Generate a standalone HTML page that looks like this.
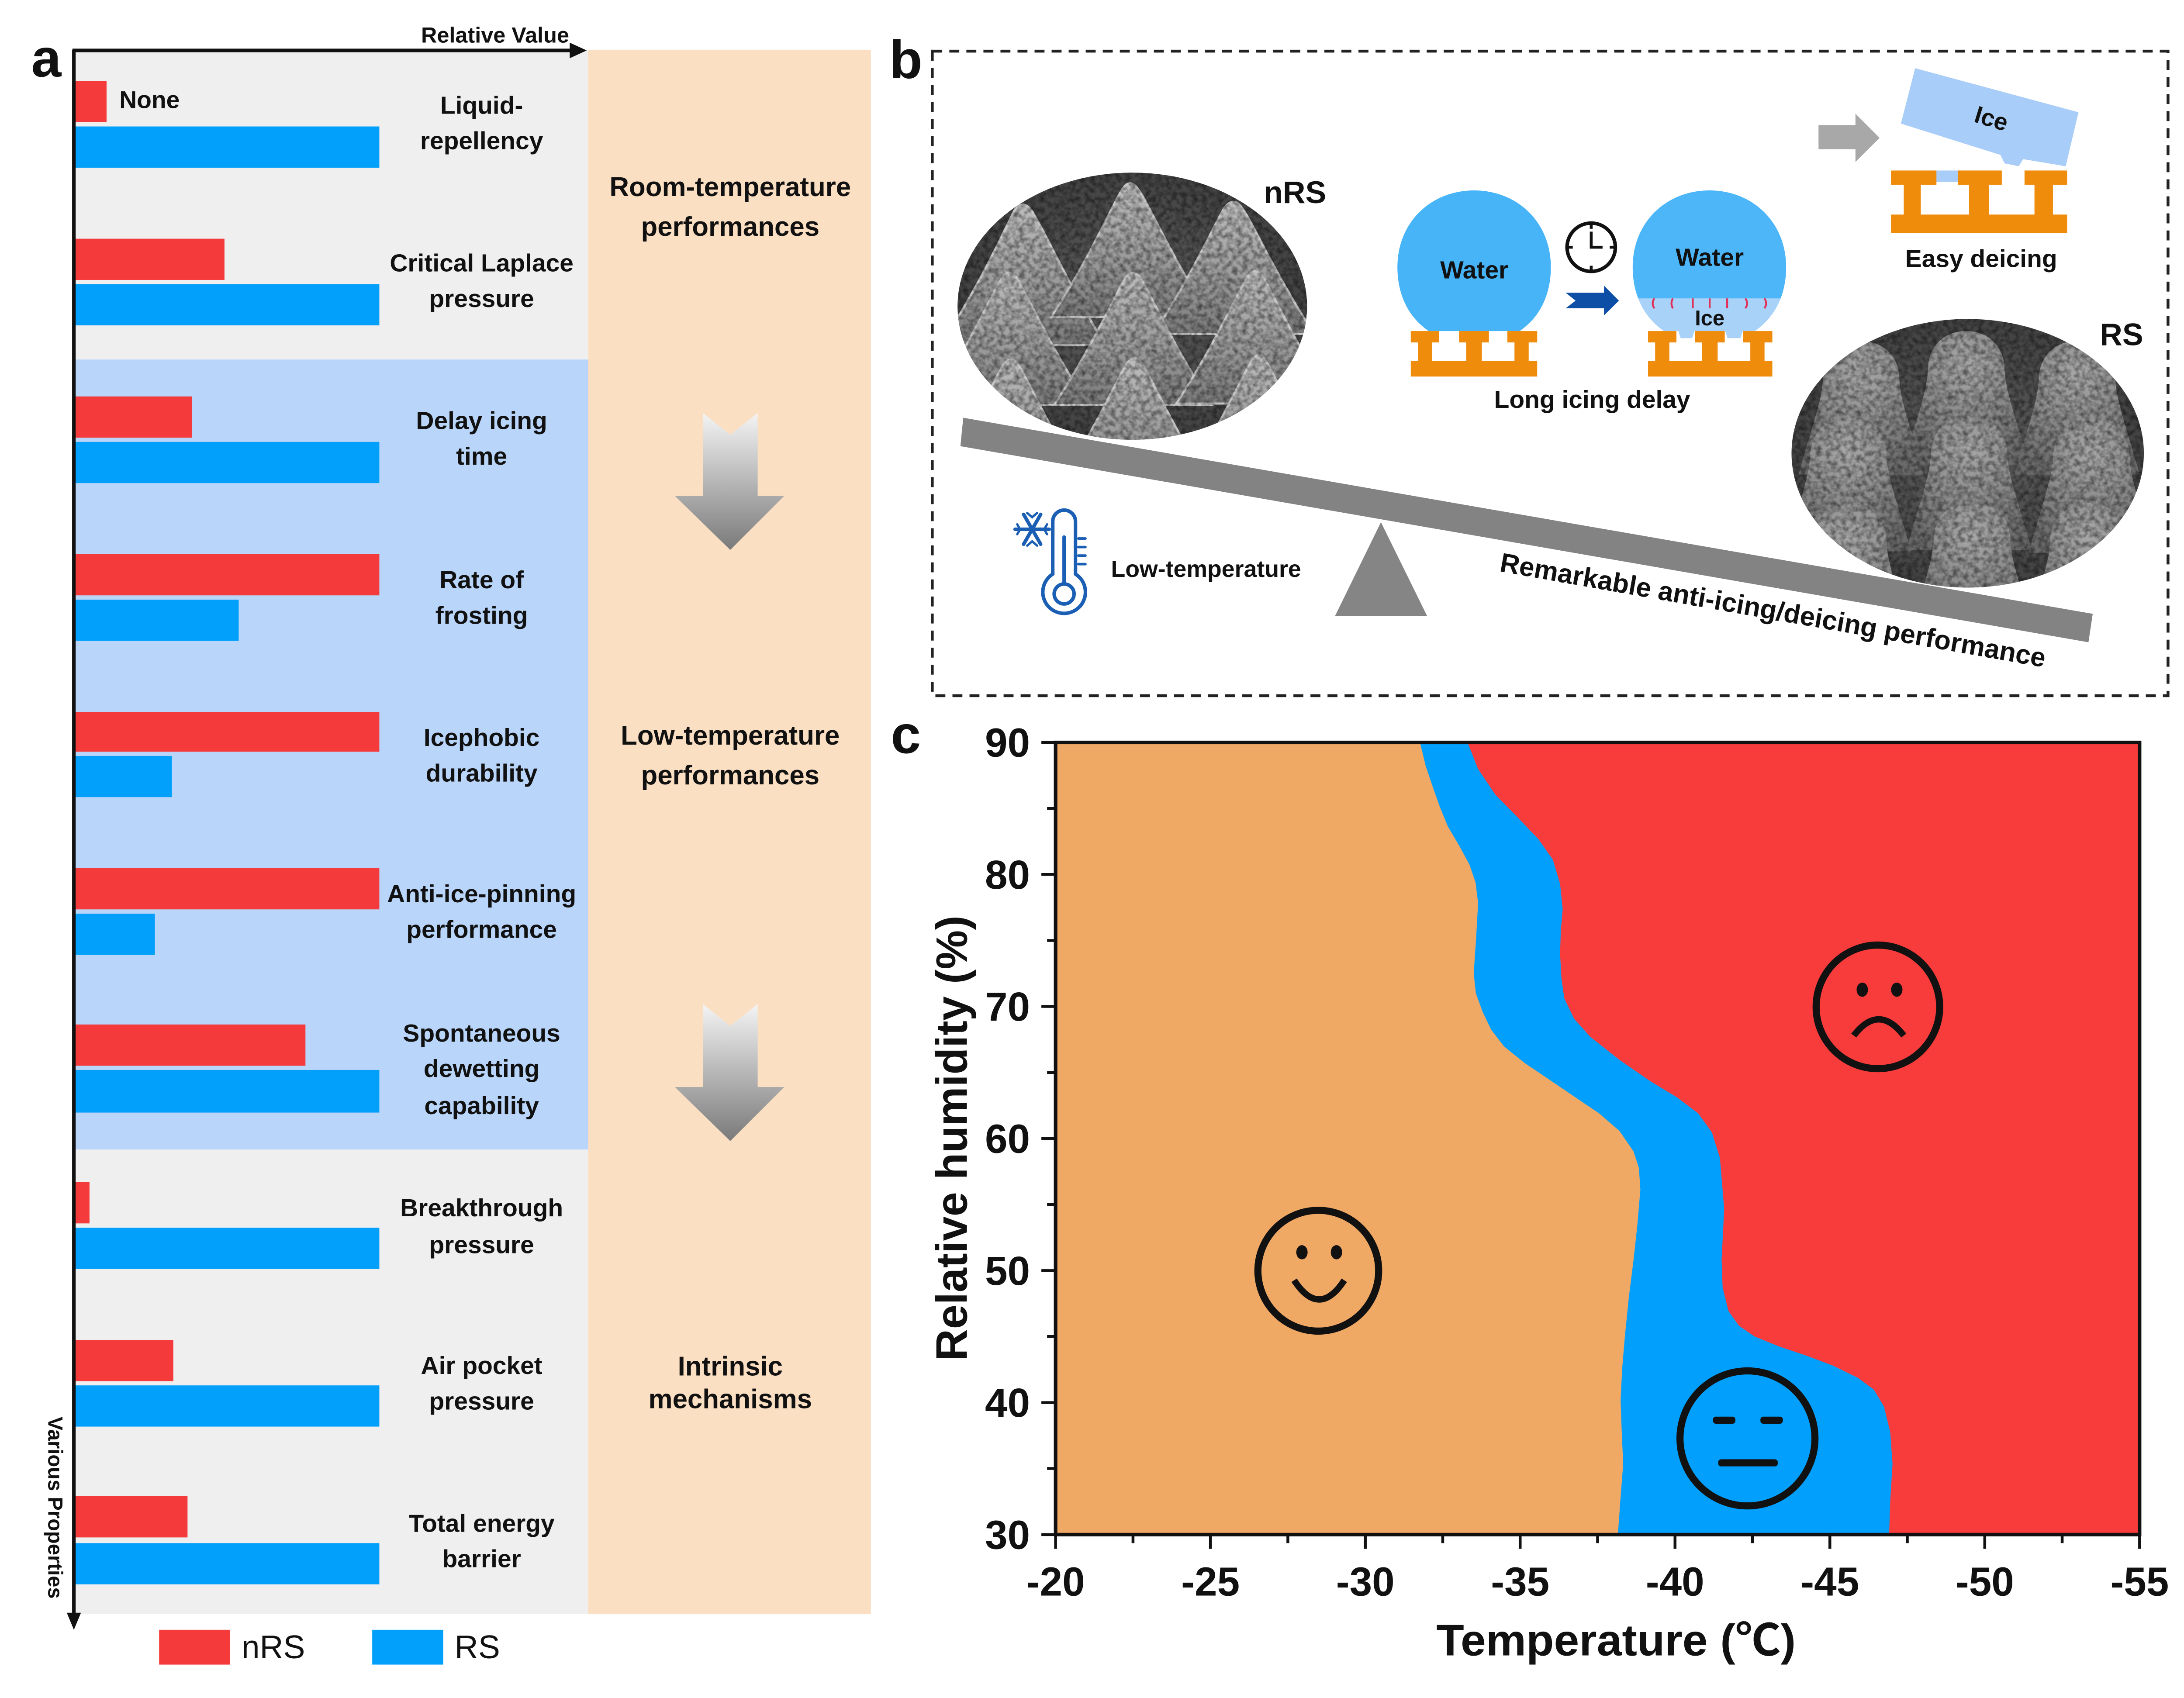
<!DOCTYPE html>
<html><head><meta charset="utf-8"><style>
html,body{margin:0;padding:0;background:#fff;}
svg{display:block;}
text{font-family:"Liberation Sans","Noto Sans CJK SC",sans-serif;font-weight:bold;fill:#111;}
</style></head><body>
<svg xmlns="http://www.w3.org/2000/svg" width="5100" height="3888" viewBox="0 0 1568 1195" preserveAspectRatio="none">
<defs>
 <linearGradient id="arr" x1="0" y1="0" x2="0" y2="1">
  <stop offset="0" stop-color="#f4f4f4"/><stop offset="1" stop-color="#7a7a7a"/>
 </linearGradient>
 <linearGradient id="cone" x1="0" y1="0" x2="0" y2="1">
  <stop offset="0" stop-color="#bdbdbd"/><stop offset="0.6" stop-color="#999"/>
  <stop offset="1" stop-color="#7a7a7a"/>
 </linearGradient>
 <radialGradient id="dome" cx="0.5" cy="0.25" r="0.75">
  <stop offset="0" stop-color="#a8a8a8"/><stop offset="0.5" stop-color="#8c8c8c"/>
  <stop offset="1" stop-color="#6a6a6a"/>
 </radialGradient>
 <radialGradient id="semb" cx="0.5" cy="0.5" r="0.6">
  <stop offset="0" stop-color="#5e5e5e"/><stop offset="1" stop-color="#3c3c3c"/>
 </radialGradient>
 <clipPath id="c1"><ellipse cx="797" cy="215.5" rx="123" ry="94"/></clipPath>
 <clipPath id="c2"><ellipse cx="1385" cy="319" rx="124" ry="94.5"/></clipPath>
 <clipPath id="d2"><path d="M1171.2,233 C1155.2,222 1149.2,205 1149.2,188 C1149.2,156 1173.2,134 1203.2,134 C1233.2,134 1257.2,156 1257.2,188 C1257.2,205 1251.2,222 1235.2,233 Z"/></clipPath>
 <filter id="grain" x="0" y="0" width="100%" height="100%">
  <feTurbulence type="fractalNoise" baseFrequency="0.28" numOctaves="2" seed="7"/>
  <feColorMatrix type="matrix" values="0 0 0 0 0  0 0 0 0 0  0 0 0 0 0  1.0 0 0 0 -0.35"/>
 </filter>
</defs>

<!-- ================= PANEL A ================= -->
<rect x="53" y="36" width="361" height="217" fill="#efefef"/>
<rect x="53" y="253" width="361" height="556" fill="#b9d5fa"/>
<rect x="53" y="809" width="361" height="327" fill="#efefef"/>
<rect x="414" y="35" width="199" height="1101" fill="#fbdfc3"/>

<g>
 <rect x="52" y="57" width="23" height="29" fill="#f53a3c"/><rect x="52" y="89" width="215" height="29" fill="#02a0fa"/>
 <rect x="52" y="168" width="106" height="29" fill="#f53a3c"/><rect x="52" y="200" width="215" height="29" fill="#02a0fa"/>
 <rect x="52" y="279" width="83" height="29" fill="#f53a3c"/><rect x="52" y="311" width="215" height="29" fill="#02a0fa"/>
 <rect x="52" y="390" width="215" height="29" fill="#f53a3c"/><rect x="52" y="422" width="116" height="29" fill="#02a0fa"/>
 <rect x="52" y="501" width="215" height="28" fill="#f53a3c"/><rect x="52" y="532" width="69" height="29" fill="#02a0fa"/>
 <rect x="52" y="611" width="215" height="29" fill="#f53a3c"/><rect x="52" y="643" width="57" height="29" fill="#02a0fa"/>
 <rect x="52" y="721" width="163" height="29" fill="#f53a3c"/><rect x="52" y="753" width="215" height="30" fill="#02a0fa"/>
 <rect x="52" y="832" width="11" height="29" fill="#f53a3c"/><rect x="52" y="864" width="215" height="29" fill="#02a0fa"/>
 <rect x="52" y="943" width="70" height="29" fill="#f53a3c"/><rect x="52" y="975" width="215" height="29" fill="#02a0fa"/>
 <rect x="52" y="1053" width="80" height="29" fill="#f53a3c"/><rect x="52" y="1086" width="215" height="29" fill="#02a0fa"/>
</g>

<line x1="52" y1="35" x2="52" y2="1137" stroke="#111" stroke-width="2.5"/>
<polygon points="47,1135 57,1135 52,1147" fill="#111"/>
<line x1="51" y1="35.5" x2="403" y2="35.5" stroke="#111" stroke-width="2.5"/>
<polygon points="401,30 401,41 413,35.5" fill="#111"/>
<text x="348.5" y="30" font-size="15.5" text-anchor="middle">Relative Value</text>
<text x="22" y="54" font-size="38">a</text>
<text x="84" y="76" font-size="17">None</text>

<g font-size="17.5" text-anchor="middle">
 <text x="339" y="80">Liquid-</text><text x="339" y="105">repellency</text>
 <text x="339" y="191">Critical Laplace</text><text x="339" y="216">pressure</text>
 <text x="339" y="302">Delay icing</text><text x="339" y="327">time</text>
 <text x="339" y="414">Rate of</text><text x="339" y="439">frosting</text>
 <text x="339" y="525">Icephobic</text><text x="339" y="550">durability</text>
 <text x="339" y="635">Anti-ice-pinning</text><text x="339" y="660">performance</text>
 <text x="339" y="733">Spontaneous</text><text x="339" y="758">dewetting</text><text x="339" y="784">capability</text>
 <text x="339" y="856">Breakthrough</text><text x="339" y="882">pressure</text>
 <text x="339" y="967">Air pocket</text><text x="339" y="992">pressure</text>
 <text x="339" y="1078">Total energy</text><text x="339" y="1103">barrier</text>
</g>

<g font-size="19" text-anchor="middle">
 <text x="514" y="138">Room-temperature</text><text x="514" y="166">performances</text>
 <text x="514" y="524">Low-temperature</text><text x="514" y="552">performances</text>
 <text x="514" y="968">Intrinsic</text><text x="514" y="991">mechanisms</text>
</g>
<path d="M494.7,290.6 L514,306 L533.3,290.6 L533.3,349 L552,349 L514,387 L475,349 L494.7,349 Z" fill="url(#arr)"/>
<path d="M494.7,706.6 L514,722 L533.3,706.6 L533.3,765 L552,765 L514,803 L475,765 L494.7,765 Z" fill="url(#arr)"/>

<text transform="translate(34,997) rotate(90)" font-size="14.5">Various Properties</text>

<rect x="112" y="1147" width="50" height="24.5" fill="#f53a3c"/>
<text x="170" y="1167" font-size="23" style="font-weight:normal">nRS</text>
<rect x="262" y="1147" width="50" height="24.5" fill="#02a0fa"/>
<text x="320" y="1167" font-size="23" style="font-weight:normal">RS</text>

<!-- ================= PANEL B ================= -->
<text x="626" y="55" font-size="38">b</text>
<rect x="656.2" y="36" width="869.8" height="453.6" fill="none" stroke="#222" stroke-width="2" stroke-dasharray="7 5"/>

<polygon points="678,294 1473,432 1470,452 676,314" fill="#838383"/>
<polygon points="972,367.5 1004.5,433.5 939.7,433.5" fill="#858585"/>

<!-- nRS SEM -->
<g clip-path="url(#c1)">
 <rect x="670" y="118" width="255" height="195" fill="url(#semb)"/>
 <g fill="url(#cone)" stroke="#c9c9c9" stroke-width="1.5">
  <path d="M662,243 C690,200 708,160 714,148 Q720,140 726,148 C734,160 752,200 778,243 Z"/>
  <path d="M740,223 C768,180 784,142 790,133 Q795.4,125 801,133 C808,142 824,180 852,223 Z"/>
  <path d="M812,235 C840,192 856,155 862,146 Q868,138 874,146 C881,155 897,192 925,235 Z"/>
  <path d="M655,285 C683,242 699,205 705,196 Q710,188 716,196 C722,205 738,242 766,285 Z"/>
  <path d="M742,285 C770,242 786,205 792,196 Q797,188 803,196 C809,205 825,242 853,285 Z"/>
  <path d="M828,284 C856,241 872,204 878,195 Q883,187 889,195 C895,204 911,241 939,284 Z"/>
  <path d="M657,346 C685,303 700,266 706,257 Q711.5,249 717,257 C723,266 739,303 767,346 Z"/>
  <path d="M743,345 C771,302 787,265 793,256 Q798.7,248 804,256 C810,265 826,302 854,345 Z"/>
  <path d="M831,343 C859,300 875,263 881,254 Q886,246 891,254 C897,263 913,300 941,343 Z"/>
 </g>
 <rect x="670" y="118" width="255" height="195" filter="url(#grain)"/>
</g>
<text x="889.5" y="143" font-size="22">nRS</text>

<!-- RS SEM -->
<g clip-path="url(#c2)">
 <rect x="1258" y="222" width="255" height="195" fill="url(#semb)"/>
 <g fill="url(#dome)">
  <path d="M1266,334 C1274,304 1282,284 1283,268 C1283,250 1295,240 1310,240 C1325,240 1337,250 1337,268 C1338,284 1346,304 1354,334 Z"/>
  <path d="M1340,327 C1348,297 1356,277 1357,261 C1357,243 1369,233 1384,233 C1399,233 1411,243 1411,261 C1412,277 1420,297 1428,327 Z"/>
  <path d="M1418,334 C1426,304 1434,284 1435,268 C1435,250 1447,240 1462,240 C1477,240 1489,250 1489,268 C1490,284 1498,304 1506,334 Z"/>
  <path d="M1257,388 C1265,358 1273,338 1274,322 C1274,304 1286,294 1301,294 C1316,294 1328,304 1328,322 C1329,338 1337,358 1345,388 Z"/>
  <path d="M1342,387 C1350,357 1358,337 1359,321 C1359,303 1371,293 1386,293 C1401,293 1413,303 1413,321 C1414,337 1422,357 1430,387 Z"/>
  <path d="M1428,389 C1436,359 1444,339 1445,323 C1445,305 1457,295 1472,295 C1487,295 1499,305 1499,323 C1500,339 1508,359 1516,389 Z"/>
  <path d="M1257,449 C1265,419 1273,399 1274,383 C1274,365 1286,355 1301,355 C1316,355 1328,365 1328,383 C1329,399 1337,419 1345,449 Z"/>
  <path d="M1344,447 C1352,417 1360,397 1361,381 C1361,363 1373,353 1388,353 C1403,353 1415,363 1415,381 C1416,397 1424,417 1432,447 Z"/>
  <path d="M1426,448 C1434,418 1442,398 1443,382 C1443,364 1455,354 1470,354 C1485,354 1497,364 1497,382 C1498,398 1506,418 1514,448 Z"/>
 </g>
 <rect x="1258" y="222" width="255" height="195" filter="url(#grain)"/>
</g>
<text x="1478" y="243" font-size="22">RS</text>

<!-- droplet 1 -->
<path d="M1005.6,233 C989.6,222 983.6,205 983.6,188 C983.6,156 1007.6,134 1037.6,134 C1067.6,134 1091.6,156 1091.6,188 C1091.6,205 1085.6,222 1069.6,233 Z" fill="#47b4f8"/>
<text x="1037.7" y="196" font-size="17.5" text-anchor="middle">Water</text>
<g fill="#ef8c0c">
 <rect x="993" y="233" width="20" height="8"/><rect x="998" y="240" width="10" height="15"/>
 <rect x="1027" y="233" width="21" height="8"/><rect x="1032" y="240" width="11" height="15"/>
 <rect x="1061" y="233" width="21" height="8"/><rect x="1066" y="240" width="10" height="15"/>
 <rect x="993" y="254" width="89" height="11"/>
</g>

<circle cx="1120" cy="174" r="17" fill="#fff" stroke="#111" stroke-width="2.5"/>
<g stroke="#111" stroke-width="2">
 <line x1="1120" y1="157" x2="1120" y2="161"/><line x1="1120" y1="187" x2="1120" y2="191"/>
 <line x1="1103" y1="174" x2="1107" y2="174"/><line x1="1133" y1="174" x2="1137" y2="174"/>
 <line x1="1120" y1="174" x2="1120" y2="163"/><line x1="1119" y1="174" x2="1128" y2="174"/>
</g>
<polygon points="1102,206 1129,206 1129,201 1139.5,211.6 1129,222 1129,217 1102,217 1109,211.6" fill="#0d4ea6"/>

<!-- droplet 2 -->
<g clip-path="url(#d2)">
 <rect x="1145" y="130" width="120" height="81" fill="#4cb6f9"/>
 <rect x="1145" y="210" width="120" height="30" fill="#a9d2f8"/>
</g>
<path d="M1181,232 L1193,232 L1191,238 L1183,238 Z M1214,232 L1227,232 L1225,238 L1216,238 Z" fill="#a9d2f8"/>
<g fill="none" stroke="#e0325a" stroke-width="1.3">
 <path d="M1164.5,210 Q1162,213.5 1164.5,217"/>
 <path d="M1177.5,210 Q1175.5,213.5 1177.5,217"/>
 <path d="M1191.5,210 L1191.5,217"/>
 <path d="M1203.4,210 L1203.4,217"/>
 <path d="M1215.7,210 L1215.7,217"/>
 <path d="M1228.5,210 Q1231,213.5 1228.5,217"/>
 <path d="M1241.9,210 Q1244.4,213.5 1241.9,217"/>
</g>
<text x="1203.4" y="187" font-size="17.5" text-anchor="middle">Water</text>
<text x="1203.4" y="229" font-size="15" text-anchor="middle">Ice</text>
<g fill="#ef8c0c">
 <rect x="1160" y="233" width="20" height="8"/><rect x="1165" y="240" width="10" height="15"/>
 <rect x="1193" y="233" width="21" height="8"/><rect x="1198" y="240" width="11" height="15"/>
 <rect x="1227" y="233" width="20.5" height="8"/><rect x="1232" y="240" width="10" height="15"/>
 <rect x="1160" y="254" width="87.5" height="11"/>
</g>
<text x="1120.7" y="287" font-size="17.5" text-anchor="middle">Long icing delay</text>

<polygon points="1280,88 1306,88 1306,80 1323,97 1306,114 1306,105 1280,105" fill="#a8a8a8"/>
<polygon points="1348,48 1463,79 1454,117 1424,112 1421,117 1411,115 1408,109 1338,87" fill="#a8cdf8"/>
<text transform="translate(1400,89) rotate(17)" font-size="17" text-anchor="middle">Ice</text>
<rect x="1362" y="120" width="17" height="8" fill="#a8cdf8"/>
<g fill="#ef8c0c">
 <rect x="1331" y="120" width="32" height="10"/><rect x="1340" y="129" width="12" height="23"/>
 <rect x="1378" y="120" width="31" height="10"/><rect x="1386" y="129" width="14" height="23"/>
 <rect x="1425" y="120" width="30" height="10"/><rect x="1432" y="129" width="13" height="23"/>
 <rect x="1331" y="151" width="124" height="13"/>
</g>
<text x="1394.5" y="188" font-size="17.5" text-anchor="middle">Easy deicing</text>

<!-- thermometer -->
<g stroke="#1a5fb4" fill="none" stroke-width="2.5" stroke-linecap="round">
 <line x1="714.5" y1="372.5" x2="738.5" y2="372.5"/>
 <line x1="720.5" y1="362" x2="732.5" y2="383"/>
 <line x1="732.5" y1="362" x2="720.5" y2="383"/>
 <path d="M716,369 L718,372.5 L716,376 M737,369 L735,372.5 L737,376 M723,361 L726.5,364 L730,361 M723,384 L726.5,381 L730,384" stroke-width="1.6"/>
 <path d="M741,404 L741,367 A8,8 0 0 1 757,367 L757,404 A15,15 0 1 1 741,404 Z"/>
 <circle cx="749" cy="418" r="7"/>
 <line x1="749" y1="411" x2="749" y2="378"/>
 <line x1="759" y1="379" x2="764" y2="379" stroke-width="1.8"/>
 <line x1="759" y1="385" x2="764" y2="385" stroke-width="1.8"/>
 <line x1="759" y1="391" x2="764" y2="391" stroke-width="1.8"/>
 <line x1="759" y1="397" x2="764" y2="397" stroke-width="1.8"/>
</g>
<text x="782" y="406" font-size="16.5">Low-temperature</text>
<text transform="translate(1055,402) rotate(10)" font-size="19">Remarkable anti-icing/deicing performance</text>

<!-- ================= PANEL C ================= -->
<text x="627" y="530" font-size="38">c</text>
<rect x="743" y="522.5" width="763" height="557.5" fill="#f83b3b"/>
<polygon fill="#02a0fc" points="743,522.5 1033.1,522.9 1040.4,541.2 1052.5,559.2 1068,575 1082.9,590.6 1093,605 1098.1,622 1099.9,639.9 1098.6,655 1098.1,671.3 1099,688 1101.1,702.7 1108,717 1119.4,729.7 1140,746 1161.9,761.1 1180,772 1195.3,783.5 1205,797 1210.6,814.9 1213.6,850.8 1211.8,886.7 1212.5,906 1216.6,922.6 1224,933 1234.9,940.5 1252,947.5 1271.3,954 1290,961 1307.8,969.7 1319,978 1326.1,989.9 1330.5,1008 1332.1,1030.2 1330.5,1056 1329.7,1080 743,1080"/>
<polygon fill="#f0a865" points="743,522.5 999.6,522.9 1003.5,539 1008.8,554.7 1013.5,568 1019.1,581.6 1027,595 1034.3,608.5 1038.6,621 1040.4,635.5 1039,660 1037.3,684.8 1038.8,699 1043.4,711.7 1049.5,724.5 1058.6,736.4 1073,748 1089,758.8 1107,771 1125.5,783.5 1140,796 1149.8,810.4 1153.6,822 1154.6,837.3 1152.5,862 1149.8,886.7 1146.5,913 1143.7,940.5 1141.8,963 1140.7,985.4 1141.5,1008 1142.5,1030.2 1140.5,1056 1138.8,1080 743,1080"/>

<g fill="none" stroke="#111" stroke-width="5">
 <circle cx="927.9" cy="894.3" r="42.5"/>
 <path d="M910.9,901 Q928.5,928 946.2,901" stroke-width="4.5"/>
 <circle cx="1321.8" cy="708.6" r="43.5"/>
 <path d="M1304.8,728.8 Q1322.4,706 1340,728.8" stroke-width="4.5"/>
 <circle cx="1230" cy="1012.3" r="47.5"/>
</g>
<g fill="#111">
 <ellipse cx="916.4" cy="881.3" rx="4" ry="5"/><ellipse cx="940.7" cy="881.3" rx="4" ry="5"/>
 <ellipse cx="1310.8" cy="696.5" rx="4" ry="5"/><ellipse cx="1335.1" cy="696.5" rx="4" ry="5"/>
 <rect x="1205.7" y="997" width="15.8" height="5" rx="2"/>
 <rect x="1239.1" y="997" width="15.8" height="5" rx="2"/>
 <rect x="1209.4" y="1027" width="41.9" height="5" rx="2"/>
</g>

<rect x="743" y="522.5" width="763" height="557.5" fill="none" stroke="#111" stroke-width="2.5"/>
<g stroke="#111" stroke-width="2">
 <line x1="743" y1="1080" x2="743" y2="1090"/><line x1="852" y1="1080" x2="852" y2="1090"/>
 <line x1="961" y1="1080" x2="961" y2="1090"/><line x1="1070" y1="1080" x2="1070" y2="1090"/>
 <line x1="1179" y1="1080" x2="1179" y2="1090"/><line x1="1288" y1="1080" x2="1288" y2="1090"/>
 <line x1="1397" y1="1080" x2="1397" y2="1090"/><line x1="1506" y1="1080" x2="1506" y2="1090"/>
 <line x1="797.5" y1="1080" x2="797.5" y2="1086"/><line x1="906.5" y1="1080" x2="906.5" y2="1086"/>
 <line x1="1015.5" y1="1080" x2="1015.5" y2="1086"/><line x1="1124.5" y1="1080" x2="1124.5" y2="1086"/>
 <line x1="1233.5" y1="1080" x2="1233.5" y2="1086"/><line x1="1342.5" y1="1080" x2="1342.5" y2="1086"/>
 <line x1="1451.5" y1="1080" x2="1451.5" y2="1086"/>
 <line x1="733" y1="522.5" x2="743" y2="522.5"/><line x1="733" y1="615.4" x2="743" y2="615.4"/>
 <line x1="733" y1="708.3" x2="743" y2="708.3"/><line x1="733" y1="801.2" x2="743" y2="801.2"/>
 <line x1="733" y1="894.2" x2="743" y2="894.2"/><line x1="733" y1="987.1" x2="743" y2="987.1"/>
 <line x1="733" y1="1080" x2="743" y2="1080"/>
 <line x1="737" y1="569" x2="743" y2="569"/><line x1="737" y1="661.9" x2="743" y2="661.9"/>
 <line x1="737" y1="754.8" x2="743" y2="754.8"/><line x1="737" y1="847.7" x2="743" y2="847.7"/>
 <line x1="737" y1="940.6" x2="743" y2="940.6"/><line x1="737" y1="1033.5" x2="743" y2="1033.5"/>
</g>
<g font-size="28.5" text-anchor="end">
 <text x="725" y="532.5">90</text><text x="725" y="625.4">80</text><text x="725" y="718.3">70</text>
 <text x="725" y="811.2">60</text><text x="725" y="904.2">50</text><text x="725" y="997.1">40</text>
 <text x="725" y="1090">30</text>
</g>
<g font-size="28.5" text-anchor="middle">
 <text x="743" y="1123">-20</text><text x="852" y="1123">-25</text><text x="961" y="1123">-30</text>
 <text x="1070" y="1123">-35</text><text x="1179" y="1123">-40</text><text x="1288" y="1123">-45</text>
 <text x="1397" y="1123">-50</text><text x="1506" y="1123">-55</text>
</g>
<text x="1137.5" y="1165" font-size="31" text-anchor="middle" textLength="253" lengthAdjust="spacingAndGlyphs">Temperature (℃)</text>
<text transform="translate(680.5,801) rotate(-90)" font-size="31" text-anchor="middle">Relative humidity (%)</text>
</svg>
</body></html>
